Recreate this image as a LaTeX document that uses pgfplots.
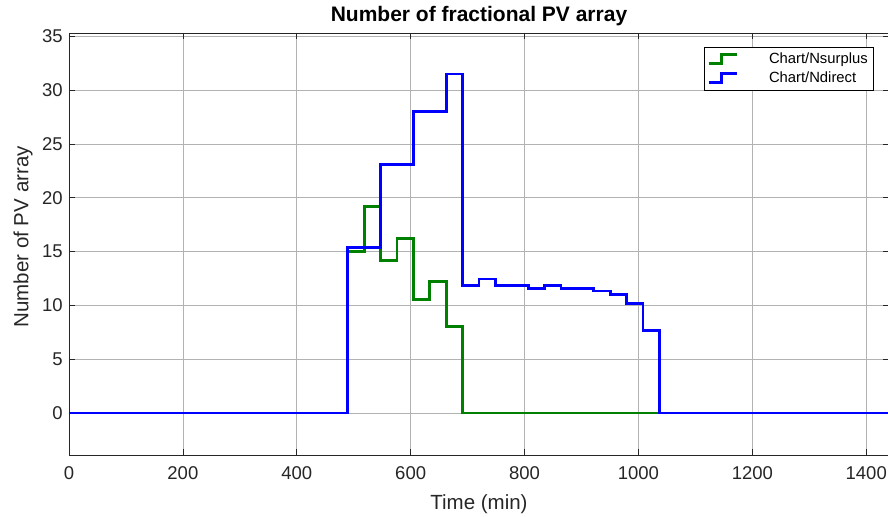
\documentclass[border=0pt]{standalone}
\usepackage{pgfplots}
\pgfplotsset{compat=1.18}
\usepackage{fontspec}
\setmainfont{Liberation Sans}
\definecolor{mgreen}{RGB}{0,128,0}
\definecolor{mblue}{RGB}{0,0,255}
\begin{document}
\begin{tikzpicture}
\path[use as bounding box] (-69bp,-62bp) rectangle ++(888bp,517bp);
\begin{axis}[name=ax, scale only axis, width=820bp, height=422bp,
  at={(0,0)}, anchor=south west,
  xmin=0, xmax=1440, ymin=-3.9, ymax=35.3,
  xtick={0,200,...,1400}, ytick={0,5,...,35},
  /pgf/number format/1000 sep={},
  /pgf/number format/assume math mode=true,
  grid=major, grid style={black!30, line width=0.6pt},
  axis line style={black!85, line width=0.8pt},
  tick style={black!85, line width=0.6pt}, major tick length=6bp,
  tick label style={font=\fontsize{18.5bp}{22bp}\selectfont, text=black!85},
  xticklabel style={yshift=-8.5bp},
  yticklabel style={xshift=-2.8bp},
  title={Number of fractional PV array},
  title style={font=\fontsize{21bp}{25bp}\selectfont\bfseries, at={(axis description cs:0.5,1.012)}, anchor=base},
  xlabel={Time (min)}, ylabel={Number of PV array},
  label style={font=\fontsize{20.5bp}{24bp}\selectfont, text=black!85},
  xlabel style={at={(axis description cs:0.5,-0.1161)}, anchor=center},
  ylabel style={at={(axis description cs:-0.0561,0.517)}, anchor=center, rotate=0},
  legend style={at={(0.9817,0.9675)}, anchor=north east, font=\fontsize{14.8bp}{17bp}\selectfont,
    draw=black, line width=0.6pt, inner xsep=3bp, inner ysep=2bp, row sep=0bp,
    nodes={inner xsep=3bp, inner ysep=3.6bp}, cells={anchor=west}},
  legend image code/.code={\draw[#1, line width=2.8pt] (0bp,-4.5bp) -- (13bp,-4.5bp) -- (13bp,4.5bp) -- (28bp,4.5bp);},
]
\addplot[const plot, color=mgreen, line width=2.8pt] coordinates {
(0,0) (489.6,14.98) (518.4,19.2) (547.2,14.2) (576,16.2) (604.8,10.55) (633.6,12.25) (662.4,8.0) (691.2,0) (1440,0)};
\addlegendentry{\hspace{28bp}Chart/Nsurplus}
\addplot[const plot, color=mblue, line width=2.8pt] coordinates {
(0,0) (489.6,15.35) (547.2,23.1) (604.8,28.0) (662.4,31.5) (691.2,11.88) (720,12.44) (748.8,11.82) (806.4,11.58) (835.2,11.82) (864,11.58) (921.6,11.33) (950.4,11.02) (979.2,10.18) (1008,7.64) (1036.8,0) (1440,0)};
\addlegendentry{\hspace{28bp}Chart/Ndirect}
\end{axis}
\end{tikzpicture}
\end{document}
